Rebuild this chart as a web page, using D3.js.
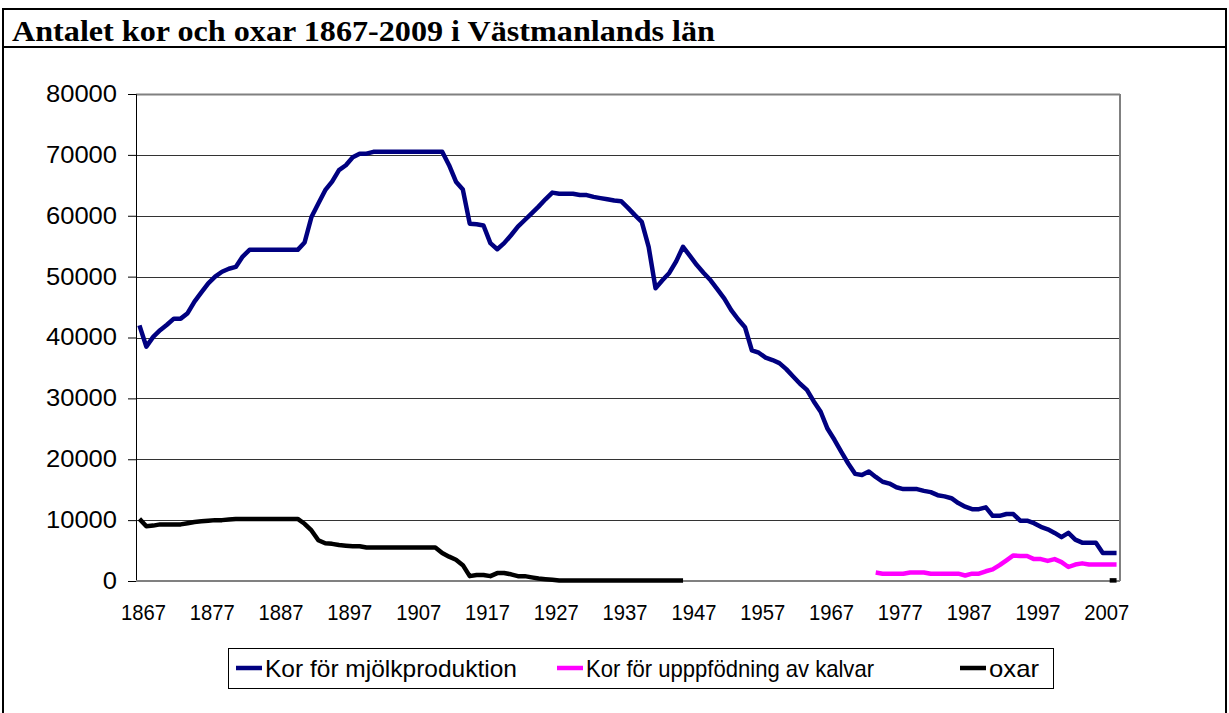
<!DOCTYPE html>
<html>
<head>
<meta charset="utf-8">
<script src="https://cdn.jsdelivr.net/npm/d3@7"></script>
<style>
  body { margin: 0; background: #fff; }
  svg { display: block; }
</style>
</head>
<body>
<svg id="chart"></svg>
<script>
var width = 1229;
var height = 713;

// category axis
var firstYear = 1867;
var lastYear = 2009;
var years = d3.range(firstYear, lastYear + 1);
var xTickYears = [1867, 1877, 1887, 1897, 1907, 1917, 1927, 1937, 1947, 1957, 1967, 1977, 1987, 1997, 2007];
var yTicks = [0, 10000, 20000, 30000, 40000, 50000, 60000, 70000, 80000];

// Kor för mjölkproduktion, 1867-2009
var mjolk = [
    42000, 38500, 40100, 41200, 42100, 43100, 43100, 44000, 45900, 47400,
    48900, 50000, 50800, 51300, 51600, 53300, 54400, 54400, 54400, 54400,
    54400, 54400, 54400, 54400, 55600, 59800, 62000, 64200, 65600, 67500,
    68300, 69600, 70200, 70200, 70500, 70500, 70500, 70500, 70500, 70500,
    70500, 70500, 70500, 70500, 70500, 68300, 65600, 64300, 58700, 58600,
    58400, 55500, 54500, 55500, 56800, 58200, 59300, 60400, 61500, 62700,
    63800, 63600, 63600, 63600, 63400, 63400, 63100, 62900, 62700, 62500,
    62400, 61300, 60100, 59000, 54900, 48100, 49400, 50600, 52500, 54900,
    53400, 51900, 50600, 49400, 47900, 46400, 44500, 43000, 41700, 37900,
    37500, 36700, 36300, 35800, 34800, 33600, 32400, 31400, 29500, 27800,
    25000, 23200, 21200, 19300, 17600, 17400, 18000, 17100, 16300, 16000,
    15400, 15100, 15100, 15100, 14800, 14600, 14100, 13900, 13600, 12800,
    12200, 11800, 11800, 12100, 10700, 10700, 11000, 11000, 9900, 9900,
    9500, 8900, 8500, 7900, 7200, 7900, 6800, 6300, 6300, 6300,
    4600, 4600, 4600
];

// Kor för uppfödning av kalvar, 1974-2009
var kalvarStart = 1974;
var kalvar = [
    1400, 1200, 1200, 1200, 1200, 1400, 1400, 1400, 1200, 1200,
    1200, 1200, 1200, 900, 1200, 1200, 1600, 1900, 2600, 3400,
    4200, 4100, 4100, 3600, 3600, 3300, 3600, 3100, 2300, 2700,
    2900, 2700, 2700, 2700, 2700, 2700
];

// oxar, 1867-1946 and 2008-2009
var oxarStart = 1867;
var oxar = [
    10200, 9000, 9100, 9300, 9300, 9300, 9300, 9500, 9700, 9800,
    9900, 10000, 10000, 10100, 10200, 10200, 10200, 10200, 10200, 10200,
    10200, 10200, 10200, 10200, 9400, 8300, 6700, 6200, 6100, 5900,
    5800, 5700, 5700, 5500, 5500, 5500, 5500, 5500, 5500, 5500,
    5500, 5500, 5500, 5500, 4600, 4000, 3500, 2600, 800, 1000,
    1000, 800, 1300, 1300, 1100, 800, 800, 600, 400, 300,
    200, 100, 100, 100, 100, 100, 100, 100, 100, 100,
    100, 100, 100, 100, 100, 100, 100, 100, 100, 100
];
var oxarLateStart = 2008;
var oxarLate = [100, 100];

// legend text as written in the original
var seriesNames = ["Kor för mjölkproduktion", "Kor för upppfödning av kalvar", "oxar"];
var seriesColors = ["#000080", "#ff00ff", "#000000"];

function toPoints(values, start) {
    return values.map((v, i) => ({ year: start + i, value: v }));
}

var series = [
    { color: seriesColors[0], points: toPoints(mjolk, firstYear) },
    { color: seriesColors[1], points: toPoints(kalvar, kalvarStart) },
    { color: seriesColors[2], points: toPoints(oxar, oxarStart) },
    { color: seriesColors[2], points: toPoints(oxarLate, oxarLateStart) }
];

var plot = { left: 136, right: 1120, top: 94, bottom: 581 };
var axisFont = "'Liberation Sans', Arial, sans-serif";

var svg = d3.select("#chart")
    .attr("width", width)
    .attr("height", height)
    .style("background", "#fff");

// outer frame + title row
var frame = svg.append("g").attr("fill", "none").attr("stroke", "#000").attr("stroke-width", 2);
frame.append("rect").attr("x", 3).attr("y", 9).attr("width", 1223).attr("height", 720);
frame.append("line").attr("x1", 3).attr("x2", 1226).attr("y1", 47).attr("y2", 47);

svg.append("text")
    .attr("x", 12)
    .attr("y", 41)
    .attr("font-family", "'Liberation Serif', 'Times New Roman', serif")
    .attr("font-weight", "bold")
    .attr("font-size", 29)
    .attr("textLength", 703)
    .attr("lengthAdjust", "spacingAndGlyphs")
    .text("Antalet kor och oxar 1867-2009 i Västmanlands län");

var x = d3.scaleBand().domain(years).range([plot.left, plot.right]);
var y = d3.scaleLinear().domain([0, 80000]).range([plot.bottom, plot.top]);
var cx = d => x(d) + x.bandwidth() / 2;

// gridlines
svg.append("g")
    .selectAll("line")
    .data(yTicks.filter(d => d > 0))
    .enter().append("line")
    .attr("x1", plot.left).attr("x2", plot.right)
    .attr("y1", d => Math.round(y(d)) + 0.5).attr("y2", d => Math.round(y(d)) + 0.5)
    .attr("stroke", d => d === 80000 ? "#808080" : "#333")
    .attr("stroke-width", d => d === 80000 ? 2 : 1);

// right plot border
svg.append("line")
    .attr("x1", plot.right).attr("x2", plot.right)
    .attr("y1", plot.top).attr("y2", plot.bottom)
    .attr("stroke", "#808080").attr("stroke-width", 2);

// y axis
var yAxis = svg.append("g")
    .attr("transform", `translate(${plot.left},0)`)
    .call(d3.axisLeft(y).tickValues(yTicks).tickSize(8).tickPadding(11).tickFormat(d3.format("d")));
yAxis.select(".domain").attr("stroke", "#000");
yAxis.selectAll("text")
    .attr("font-family", axisFont).attr("font-size", 23).attr("fill", "#000")
    .attr("textLength", d => String(d).length * 14.2)
    .attr("lengthAdjust", "spacingAndGlyphs");
yAxis.selectAll("line").attr("stroke", "#000");

// x axis
var xAxis = svg.append("g")
    .attr("transform", `translate(0,${plot.bottom})`)
    .call(d3.axisBottom(x).tickValues(xTickYears).tickSize(0).tickPadding(23));
xAxis.select(".domain").remove();
xAxis.selectAll("text")
    .attr("font-family", axisFont).attr("font-size", 22).attr("fill", "#000")
    .attr("dx", 4)
    .attr("textLength", 45)
    .attr("lengthAdjust", "spacingAndGlyphs");
svg.append("line")
    .attr("x1", plot.left).attr("x2", plot.right)
    .attr("y1", plot.bottom).attr("y2", plot.bottom)
    .attr("stroke", "#808080").attr("stroke-width", 2);

// series lines
var line = d3.line()
    .x(d => cx(d.year))
    .y(d => y(d.value));

svg.append("g")
    .selectAll("path")
    .data(series)
    .enter().append("path")
    .attr("d", d => line(d.points))
    .attr("fill", "none")
    .attr("stroke", d => d.color)
    .attr("stroke-width", 4.5)
    .attr("stroke-linejoin", "round");

// legend
var legendItems = [
    { name: seriesNames[0], color: seriesColors[0], x: 236, w: 252 },
    { name: seriesNames[1], color: seriesColors[1], x: 557, w: 288 },
    { name: seriesNames[2], color: seriesColors[2], x: 960, w: 50 }
];
var legend = svg.append("g");
legend.append("rect")
    .attr("x", 228.5).attr("y", 648.5)
    .attr("width", 825).attr("height", 40)
    .attr("fill", "#fff").attr("stroke", "#000").attr("stroke-width", 1);
var li = legend.selectAll(".item").data(legendItems).enter().append("g").attr("class", "item");
li.append("line")
    .attr("x1", d => d.x).attr("x2", d => d.x + 26)
    .attr("y1", 668).attr("y2", 668)
    .attr("stroke", d => d.color).attr("stroke-width", 4.5);
li.append("text")
    .attr("x", d => d.x + 29)
    .attr("y", 677)
    .attr("font-family", axisFont)
    .attr("font-size", 24)
    .attr("textLength", d => d.w)
    .attr("lengthAdjust", "spacingAndGlyphs")
    .text(d => d.name);
</script>
</body>
</html>
